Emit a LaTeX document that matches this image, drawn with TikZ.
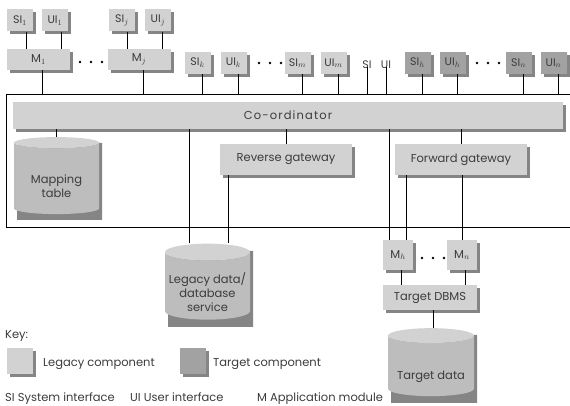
\documentclass[tikz,border=0pt]{standalone}
\usepackage{fontspec}
\setmainfont{Poppins}
\usetikzlibrary{shapes.geometric,shadows}
\definecolor{legacygray}{HTML}{D2D2D2}
\definecolor{targetgray}{HTML}{A2A2A2}
\definecolor{shadegray}{HTML}{858585}
\definecolor{inkgray}{HTML}{3C3C3C}
\definecolor{bodygray}{HTML}{BDBDBD}
\tikzset{
  comp/.style={fill=legacygray,draw=none,inner sep=0pt,text=inkgray,
    font=\fontsize{11.5}{13}\selectfont,
    drop shadow={shadow xshift=3pt,shadow yshift=-3pt,fill=shadegray,opacity=1}},
  iface/.style={comp,minimum width=26,minimum height=22,font=\fontsize{11}{13}\selectfont},
  tgt/.style={fill=targetgray},
  modbox/.style={comp,minimum width=63,minimum height=21},
  gatebox/.style={comp,minimum width=132,minimum height=31},
  store/.style={cylinder,shape border rotate=90,aspect=.22,draw=none,
    cylinder uses custom fill,cylinder body fill=bodygray,cylinder end fill=legacygray,
    inner sep=0pt,align=center,text=inkgray,font=\fontsize{11.5}{14}\selectfont},
  storeshade/.style={cylinder,shape border rotate=90,aspect=.22,draw=none,
    fill=shadegray,inner sep=0pt},
  wire/.style={draw=black,line width=.8pt},
  keytext/.style={anchor=west,inner sep=0pt,text=inkgray,font=\fontsize{11.5}{13}\selectfont}
}
\newcommand{\threedots}[1]{\foreach \dx in {-11,0,11} \fill (#1) ++(\dx,0) circle (1.3);}
\newcommand{\lowtext}[2]{\raisebox{-#1}[0pt][0pt]{\begin{tabular}{@{}c@{}}#2\end{tabular}}}

\begin{document}
\begin{tikzpicture}[x=1pt,y=-1pt]
  \useasboundingbox (0,0) rectangle (570,406);
  % outer frame
  \node[draw,line width=.9pt,minimum width=580,minimum height=133,anchor=north west,inner sep=0pt] (frame) at (6,94) {};
  % legacy modules
  \node[iface] (si1) at (20,20.5) {SI$_1$};
  \node[iface] (ui1) at (55,20.5) {UI$_1$};
  \node[iface] (sij) at (122,20.5) {SI$_j$};
  \node[iface] (uij) at (158,20.5) {UI$_j$};
  \node[modbox] (m1) at (38.5,59.5) {M$_1$};
  \node[modbox] (mj) at (139,59.5) {M$_j$};
  \coordinate (dotsa) at (91,62);
  \node[iface] (sik) at (197.5,63) {SI$_k$};
  \node[iface] (uik) at (233.5,63) {UI$_k$};
  \coordinate (dotsb) at (270,63);
  \node[iface] (sim) at (297.5,63) {SI$_m$};
  \node[iface] (uim) at (333.5,63) {UI$_m$};
  \node[inner sep=0pt,text=inkgray,font=\fontsize{11}{13}\selectfont] (sitxt) at (367,65) {SI};
  \node[inner sep=0pt,text=inkgray,font=\fontsize{11}{13}\selectfont] (uitxt) at (386,65) {UI};
  % target interfaces
  \node[iface,tgt] (sih) at (417.5,63) {SI$_h$};
  \node[iface,tgt] (uih) at (452.5,63) {UI$_h$};
  \coordinate (dotsc) at (488,63);
  \node[iface,tgt] (sin) at (518.5,63) {SI$_n$};
  \node[iface,tgt] (uin) at (553.5,63) {UI$_n$};
  \threedots{dotsa}
  \threedots{dotsb}
  \threedots{dotsc}
  % inside the frame
  \node[comp,minimum width=550,minimum height=27] (coord) at (288,115.5) {\addfontfeatures{LetterSpace=10}Co-ordinator};
  \node[storeshade,minimum width=85,minimum height=77] (maptabsh) at (59.5,181.5) {};
  \node[store,minimum width=85,minimum height=77] (maptab) at (56.5,178.5) {\lowtext{12pt}{Mapping\\table}};
  \node[gatebox] (revgw) at (286,159.5) {Reverse gateway};
  \node[gatebox] (fwdgw) at (461,159.5) {Forward gateway};
  % below the frame
  \node[storeshade,minimum width=85,minimum height=76] (legdatash) at (210.5,289) {};
  \node[store,minimum width=85,minimum height=76] (legdata) at (207.5,286) {\lowtext{11pt}{Legacy data/\\database\\service}};
  \node[comp,minimum width=30,minimum height=30] (mh) at (398,255) {M$_h$};
  \node[comp,minimum width=30,minimum height=30] (mn) at (462,255) {M$_n$};
  \coordinate (dotsd) at (433,258);
  \threedots{dotsd}
  \node[comp,minimum width=94,minimum height=25] (dbms) at (430,297.5) {Target DBMS};
  \node[storeshade,minimum width=86,minimum height=68] (tdatash) at (434,369) {};
  \node[store,minimum width=86,minimum height=68] (tdata) at (431,366) {\lowtext{14pt}{Target data}};
  \coordinate (legtap) at (189,0);
  % connectors
  \draw[wire] ([xshift=6]si1.south) -- ([xshift=6]si1.south |- m1.north);
  \draw[wire] ([xshift=6]ui1.south) -- ([xshift=6]ui1.south |- m1.north);
  \draw[wire] ([xshift=5]sij.south) -- ([xshift=5]sij.south |- mj.north);
  \draw[wire] ([xshift=4]uij.south) -- ([xshift=4]uij.south |- mj.north);
  \draw[wire] ([xshift=3.5]m1.south) -- ([xshift=3.5]m1.south |- frame.north);
  \draw[wire] ([xshift=4]mj.south) -- ([xshift=4]mj.south |- frame.north);
  \foreach \n in {sik,uik,sim,uim,sih,uih,sin,uin}
    \draw[wire] ([xshift=5]\n.south) -- ([xshift=5]\n.south |- frame.north);
  \draw[wire] ([yshift=2]sitxt.south) -- (sitxt.south |- frame.north);
  \draw[wire] ([yshift=2]uitxt.south) -- (uitxt.south |- frame.north);
  \draw[wire] (maptab.north) -- (maptab.north |- coord.south);
  \draw[wire] (revgw.north) -- (revgw.north |- coord.south);
  \draw[wire] (fwdgw.north) -- (fwdgw.north |- coord.south);
  \draw[wire] (legdata.north -| legtap) -- (coord.south -| legtap);
  \draw[wire] ([xshift=-58]revgw.south) -- ([xshift=-58]revgw.south |- legdata.north);
  \draw[wire] ([xshift=-9]mh.north) -- ([xshift=-9]mh.north |- coord.south);
  \draw[wire] ([xshift=8]mh.north) -- ([xshift=8]mh.north |- fwdgw.south);
  \draw[wire] (mn.north) -- (mn.north |- fwdgw.south);
  \draw[wire] ([xshift=3]mh.south) -- ([xshift=3]mh.south |- dbms.north);
  \draw[wire] ([xshift=3]mn.south) -- ([xshift=3]mn.south |- dbms.north);
  \draw[wire] ([xshift=3]dbms.south) -- ([xshift=3]dbms.south |- tdata.north);
  % key
  \node[keytext] (keyhead) at (5,336) {Key:};
  \node[comp,minimum width=26,minimum height=26] (keyleg) at (20,361) {};
  \node[keytext] (keylegtxt) at (43,364) {Legacy component};
  \node[comp,tgt,minimum width=26,minimum height=26] (keytgt) at (193,361) {};
  \node[keytext] (keytgttxt) at (213,364) {Target component};
  \node[keytext,anchor=base west] (abbsi) at (5,401) {SI System interface};
  \node[keytext,anchor=base west] (abbui) at (130,401) {UI User interface};
  \node[keytext,anchor=base west] (abbm) at (257,401) {M Application module};
\end{tikzpicture}
\end{document}
